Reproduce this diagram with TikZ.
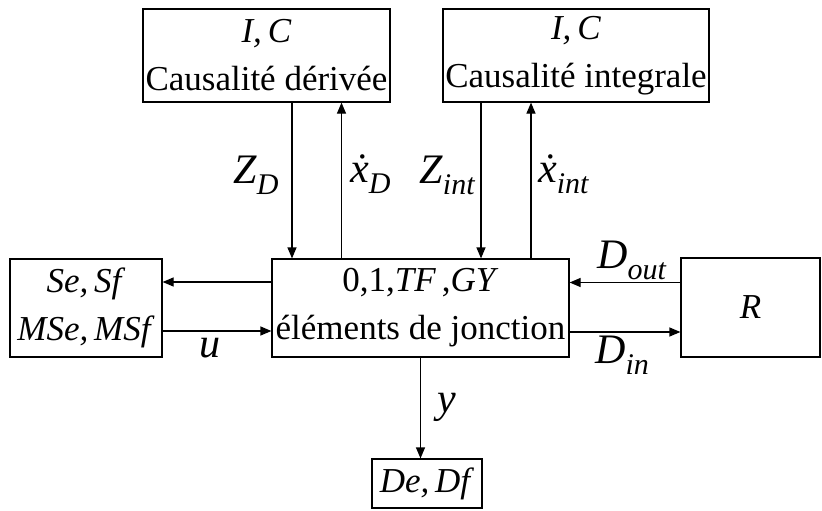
\documentclass[tikz,border=0pt]{standalone}
\usepackage{amsmath}
\usepackage{fontspec}
\setmainfont{Liberation Serif}
\usetikzlibrary{arrows.meta,positioning,calc}
\newcommand{\vx}{\textit{ẋ}}
\newcommand{\sbs}[1]{\raisebox{-11pt}{\fontsize{30}{30}\selectfont\textit{#1}}}

\begin{document}
\begin{tikzpicture}[
  x=1pt,y=-1pt,
  block/.style={draw,line width=1.2pt,align=center,inner sep=0pt,font=\fontsize{35}{48}\selectfont},
  arrow/.style={-{Triangle[length=11pt,width=9pt]},line width=1.2pt},
  lbl/.style={anchor=base west,inner sep=0pt,font=\fontsize{42}{46}\selectfont}
]
\useasboundingbox (0,0) rectangle (822,511);
\node[block,minimum width=247pt,minimum height=93pt] (derive) at (266.5,55.5) {\textit{I,\,C}\\Causalité dérivée};
\node[block,minimum width=266pt,minimum height=93pt] (integ) at (576,55.5) {\textit{I,\,C}\\Causalité integrale};
\node[block,minimum width=152pt,minimum height=98pt] (source) at (86,308) {\textit{Se,\,Sf}\\\textit{MSe,\,MSf}};
\node[block,minimum width=297pt,minimum height=98pt] (jct) at (420.5,308) {0,1,\textit{TF}\,,\textit{GY}\\éléments de jonction};
\node[block,minimum width=139pt,minimum height=99pt] (res) at (750.5,307.5) {\textit{R}};
\node[block,minimum width=110pt,minimum height=49pt] (det) at (427,483.5) {\textit{De,\,Df}};
% points de depart des fleches
\coordinate (zd) at ([xshift=25.5pt]derive.south);
\coordinate (xd) at ([xshift=75pt]derive.south);
\coordinate (zi) at ([xshift=-95pt]integ.south);
\coordinate (xi) at ([xshift=-45pt]integ.south);
\coordinate (eo) at ([yshift=26pt]jct.west);
\coordinate (ui) at ([yshift=-23pt]source.east);
\coordinate (ro) at ([yshift=25pt]res.west);
\coordinate (di) at ([yshift=-24pt]jct.east);
\draw[arrow] (zd)--(zd |- jct.north);
\draw[arrow] (xd |- jct.north)--(xd);
\draw[arrow] (zi)--(zi |- jct.north);
\draw[arrow] (xi |- jct.north)--(xi);
\draw[arrow] (eo)--(eo -| source.east);
\draw[arrow] (ui)--(ui -| jct.west);
\draw[arrow] (ro)--(ro -| jct.east);
\draw[arrow] (di)--(di -| res.west);
\draw[arrow] (jct.south)--(jct.south |- det.north);
% etiquettes
\node[lbl] (lzd) at (233,183) {\textit{Z}\sbs{D}};
\node[lbl] (lxd) at (350,182) {\vx\sbs{D}};
\node[lbl] (lzi) at (419,183) {\textit{Z}\sbs{int}};
\node[lbl] (lxi) at (538,182) {\vx\sbs{int}};
\node[lbl] (lu) at (199,357) {\textit{u}};
\node[lbl] (ldo) at (597,268) {\textit{D}\sbs{out}};
\node[lbl] (ldi) at (595,363) {\textit{D}\sbs{in}};
\node[lbl] (ly) at (437,412) {\textit{y}};
\end{tikzpicture}
\end{document}
